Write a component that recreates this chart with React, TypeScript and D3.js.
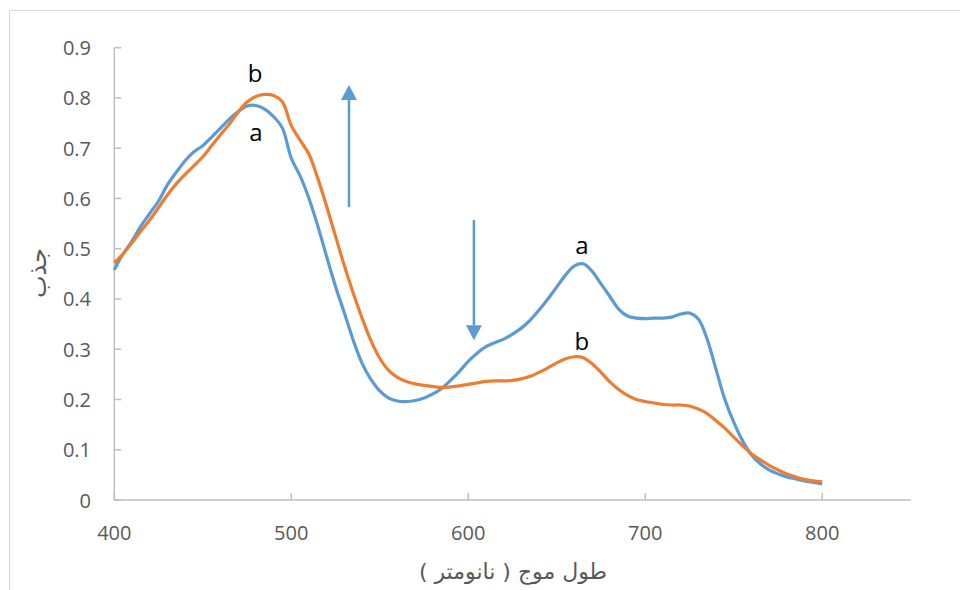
import React from "react";
import * as d3 from "d3";

// wavelength grid (nm) shared by both spectra
const wavelengths = [
	400, 405, 410, 415, 420, 425, 430, 435, 440, 445, 450, 455, 460, 465, 470, 475, 480, 485, 490, 495,
	500, 505, 510, 515, 520, 525, 530, 535, 540, 545, 550, 555, 560, 565, 570, 575, 580, 585, 590, 595,
	600, 605, 610, 615, 620, 625, 630, 635, 640, 645, 650, 655, 660, 665, 670, 675, 680, 685, 690, 695,
	700, 705, 710, 715, 720, 725, 730, 735, 740, 745, 750, 755, 760, 765, 770, 775, 780, 785, 790, 795, 800,
];

// series a (blue)
const seriesA = [
	0.458, 0.49, 0.515, 0.545, 0.57, 0.595, 0.627, 0.652, 0.675, 0.693, 0.705, 0.722, 0.74, 0.758, 0.773, 0.784, 0.785, 0.778, 0.763, 0.74,
	0.68, 0.645, 0.6, 0.545, 0.484, 0.425, 0.372, 0.318, 0.272, 0.24, 0.217, 0.203, 0.197, 0.196, 0.198, 0.203, 0.211, 0.222, 0.238, 0.256,
	0.276, 0.292, 0.305, 0.313, 0.32, 0.33, 0.342, 0.358, 0.378, 0.4, 0.424, 0.448, 0.466, 0.47, 0.455, 0.43, 0.405, 0.38, 0.366, 0.362,
	0.361, 0.362, 0.362, 0.364, 0.37, 0.372, 0.36, 0.32, 0.26, 0.2, 0.155, 0.118, 0.09, 0.072, 0.06, 0.052, 0.046, 0.042, 0.038, 0.035, 0.032,
];

// series b (orange)
const seriesB = [
	0.472, 0.49, 0.512, 0.535, 0.557, 0.582, 0.607, 0.629, 0.648, 0.665, 0.683, 0.705, 0.727, 0.748, 0.772, 0.792, 0.803, 0.807, 0.805, 0.792,
	0.745, 0.716, 0.688, 0.64, 0.584, 0.525, 0.466, 0.412, 0.362, 0.317, 0.282, 0.258, 0.244, 0.236, 0.231, 0.228, 0.226, 0.224, 0.225, 0.227,
	0.23, 0.233, 0.236, 0.237, 0.237, 0.238, 0.241, 0.246, 0.254, 0.263, 0.273, 0.281, 0.285, 0.283, 0.271, 0.254, 0.235, 0.22, 0.208, 0.2,
	0.196, 0.193, 0.19, 0.189, 0.189, 0.187, 0.181, 0.172, 0.158, 0.143, 0.125, 0.108, 0.092, 0.08, 0.069, 0.06, 0.052, 0.046, 0.041, 0.038, 0.036,
];

const xTicks = [400, 500, 600, 700, 800];
const yTicks = [0, 0.1, 0.2, 0.3, 0.4, 0.5, 0.6, 0.7, 0.8, 0.9];

// curve letters: [text, wavelength, absorbance]
const curveLabels: [string, number, number][] = [
	["b", 479.5, 0.85],
	["a", 480, 0.734],
	["a", 664.2, 0.509],
	["b", 664.2, 0.318],
];

// arrows: [wavelength, from, to]
const arrows: [number, number, number][] = [
	[532.6, 0.583, 0.826],
	[603.2, 0.557, 0.318],
];

const xTitle = "طول موج ( نانومتر )";
const yTitle = "جذب";

const BLUE = "#5b9bd5";
const ORANGE = "#ed7d31";
const AXIS = "#bfbfbf";
const LABEL = "#595959";

export default function App() {
	const width = 960;
	const height = 590;

	const x = d3.scaleLinear().domain([400, 850]).range([114.3, 910.7]);
	const y = d3.scaleLinear().domain([0, 0.9]).range([500, 47.7]);

	const line = d3
		.line<number>()
		.x((d, i) => x(wavelengths[i]))
		.y((d) => y(d))
		.curve(d3.curveCatmullRom.alpha(0.5));

	const tickFont = { fontFamily: "'Open Sans', sans-serif", fontSize: 20, fill: LABEL };

	return (
		<svg
			width={width}
			height={height}
			style={{ position: "absolute", left: 0, top: 0, background: "#fff" }}
		>
			<rect x={9.5} y={10.5} width={1000} height={1000} fill="#fff" stroke="#d9d9d9" strokeWidth={1} />

			{/* axes */}
			<line x1={x(400)} x2={x(400)} y1={y(0.9)} y2={y(0)} stroke={AXIS} strokeWidth={1.5} />
			<line x1={x(400)} x2={x(850)} y1={y(0)} y2={y(0)} stroke={AXIS} strokeWidth={1.5} />
			{yTicks.map((t) => (
				<g key={"y" + t}>
					<line x1={x(400)} x2={x(400) + 7} y1={y(t)} y2={y(t)} stroke={AXIS} strokeWidth={1.5} />
					<text x={91} y={y(t)} textAnchor="end" dominantBaseline="central" style={tickFont}>
						{t === 0 ? "0" : t.toFixed(1)}
					</text>
				</g>
			))}
			{xTicks.map((t) => (
				<g key={"x" + t}>
					<line x1={x(t)} x2={x(t)} y1={y(0)} y2={y(0) - 7} stroke={AXIS} strokeWidth={1.5} />
					<text x={x(t)} y={532} textAnchor="middle" dominantBaseline="central" style={tickFont}>
						{t}
					</text>
				</g>
			))}

			{/* spectra */}
			<path d={line(seriesA) || ""} fill="none" stroke={BLUE} strokeWidth={3.2} strokeLinejoin="round" />
			<path d={line(seriesB) || ""} fill="none" stroke={ORANGE} strokeWidth={3.2} strokeLinejoin="round" />

			{/* arrows */}
			{arrows.map(([w, from, to], i) => {
				const ax = x(w);
				const y1 = y(from);
				const tip = y(to);
				const dir = tip < y1 ? 1 : -1;
				const base = tip + dir * 15;
				return (
					<g key={"arr" + i}>
						<line x1={ax} x2={ax} y1={y1} y2={base} stroke={BLUE} strokeWidth={2.5} />
						<path d={`M${ax},${tip}L${ax - 8},${base}L${ax + 8},${base}Z`} fill={BLUE} />
					</g>
				);
			})}

			{/* letters */}
			{curveLabels.map(([t, w, v], i) => (
				<text
					key={"lab" + i}
					x={x(w)}
					y={y(v)}
					textAnchor="middle"
					dominantBaseline="central"
					style={{ fontFamily: "'Open Sans', sans-serif", fontSize: 24, fill: "#000" }}
				>
					{t}
				</text>
			))}

			{/* axis titles */}
			<text
				x={513}
				y={571}
				textAnchor="middle"
				dominantBaseline="central"
				style={{ fontFamily: "'DejaVu Sans', sans-serif", fontSize: 22, fill: LABEL }}
			>
				{xTitle}
			</text>
			<text
				transform={`translate(38,273) rotate(-90)`}
				textAnchor="middle"
				dominantBaseline="central"
				style={{ fontFamily: "'DejaVu Sans', sans-serif", fontSize: 24, fill: LABEL }}
			>
				{yTitle}
			</text>
		</svg>
	);
}
